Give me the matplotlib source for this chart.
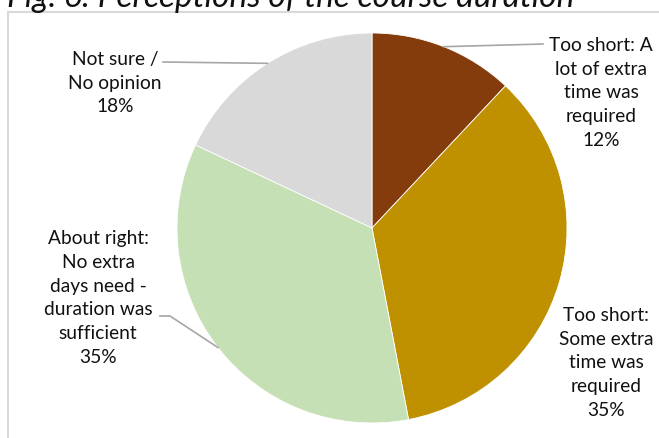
import numpy as np
import matplotlib.pyplot as plt
from matplotlib.patches import Rectangle

plt.rcParams['font.family'] = ['Lato', 'DejaVu Sans']

# survey answers, clockwise from 12 o'clock
labels = [
    "Too short: A\nlot of extra\ntime was\nrequired",
    "Too short:\nSome extra\ntime was\nrequired",
    "About right:\nNo extra\ndays need -\nduration was\nsufficient",
    "Not sure /\nNo opinion",
]
shares = [12, 35, 35, 18]
colors = ["#843C0C", "#BF9000", "#C5E0B4", "#D9D9D9"]

W, H = 659, 439
fig = plt.figure(figsize=(W / 100, H / 100), dpi=100)
ax = fig.add_axes([0, 0, 1, 1])

cx, cy, r = 372, H - 229, 195
wedges, _ = ax.pie(shares, colors=colors, startangle=90, counterclock=False,
                   center=(cx, cy), radius=r,
                   wedgeprops=dict(edgecolor="white", linewidth=0.6))
ax.set_xlim(0, W)
ax.set_ylim(0, H)
ax.set_aspect("equal")
ax.axis("off")

# chart area border (runs off the right and bottom edges)
ax.add_patch(Rectangle((8, -20), W + 20, H - 13 + 20, fill=False,
                       edgecolor="#D9D9D9", linewidth=1.5, zorder=0))

ax.text(7, H - 7, "Fig. 6: Perceptions of the course duration", fontsize=24,
        style="italic", ha="left", va="baseline", color="#111111")


def rim_point(w):
    mid = np.deg2rad((w.theta1 + w.theta2) / 2)
    return cx + r * np.cos(mid), cy + r * np.sin(mid)


# label centre positions and leader bends
label_pos = [(601, H - 93), (606, H - 363), (98, H - 298), (115, H - 83)]
leaders = [
    [(543, H - 45)],
    None,
    [(170, H - 317), (160, H - 317)],
    [(163, H - 63)],
]

for w, lab, pct, pos, lead in zip(wedges, labels, shares, label_pos, leaders):
    ax.text(pos[0], pos[1], f"{lab}\n{pct}%", ha="center", va="center",
            fontsize=13.8, color="#111111", linespacing=1.48)
    if lead:
        pts = [rim_point(w)] + lead
        xs, ys = zip(*pts)
        ax.plot(xs, ys, color="#A6A6A6", linewidth=1.2)

fig.savefig("out.png", dpi=100)
